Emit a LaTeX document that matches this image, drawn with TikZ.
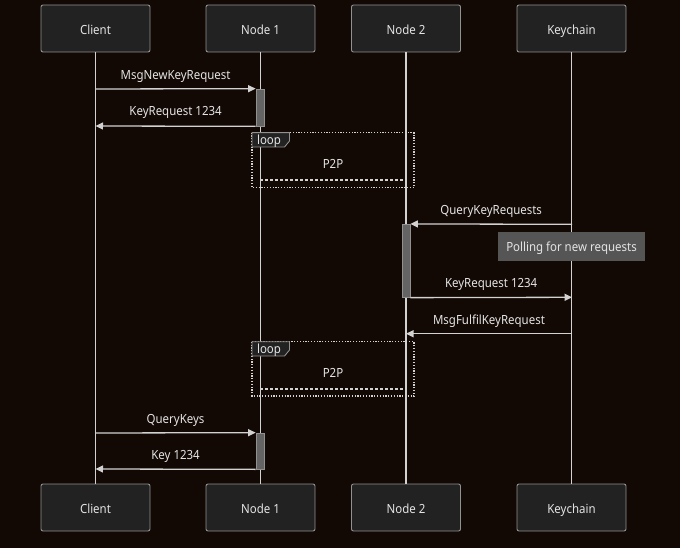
\documentclass[tikz,border=0pt]{standalone}
\usepackage{fontspec}
\setmainfont{Noto Sans}[FakeStretch=0.91]
\usetikzlibrary{arrows.meta}
\definecolor{bg}{RGB}{18,8,4}
\definecolor{boxfill}{RGB}{34,34,34}
\definecolor{boxline}{RGB}{145,145,145}
\definecolor{lineclr}{RGB}{210,210,210}
\definecolor{txt}{RGB}{228,228,228}
\definecolor{actfill}{RGB}{100,100,100}
\definecolor{notefill}{RGB}{85,85,85}
\tikzset{
  txtfont/.style={font=\fontsize{12.6}{15}\selectfont},
  actor/.style={draw=boxline, fill=boxfill, rounded corners=2pt, minimum width=109pt, minimum height=47pt, text=txt, txtfont, line width=0.9pt, text height=13.8pt, text depth=2.6pt},
  life/.style={draw=lineclr, line width=1.3pt},
  act/.style={draw=boxline, fill=actfill, minimum width=8pt, inner sep=0pt, line width=0.7pt},
  msg/.style={draw=lineclr, line width=1.3pt, -{Triangle[length=7.5pt,width=7pt]}},
  lbl/.style={text=txt, txtfont, inner sep=0pt, text height=12.2pt, text depth=2.6pt},
  loopbox/.style={draw=lineclr, line width=1.2pt, dash pattern=on 1.2pt off 1.6pt},
  p2pline/.style={draw=lineclr, line width=1.2pt, dash pattern=on 2.5pt off 2.5pt},
  looptab/.style={draw=boxline, fill=boxfill, line width=0.9pt},
  notebox/.style={fill=notefill, text=txt, txtfont, minimum width=147pt, minimum height=29pt, inner sep=0pt, text height=12.2pt, text depth=2.6pt}
}
\begin{document}
\begin{tikzpicture}[x=1pt,y=-1pt]
\fill[bg] (0,0) rectangle (680,548);
\useasboundingbox (0,0) rectangle (680,548);

% actors top
\node[actor] (ct) at (95.5,28.5) {Client};
\node[actor] (n1t) at (260.5,28.5) {Node 1};
\node[actor] (n2t) at (406,28.5) {Node 2};
\node[actor] (kt) at (571.5,28.5) {Keychain};
% actors bottom
\node[actor] (cb) at (95.5,507.5) {Client};
\node[actor] (n1b) at (260.5,507.5) {Node 1};
\node[actor] (n2b) at (406,507.5) {Node 2};
\node[actor] (kb) at (571.5,507.5) {Keychain};

% lifelines
\draw[life] (ct.south) -- (cb.north);
\draw[life] (n1t.south) -- (n1b.north);
\draw[life] (n2t.south) -- (n2b.north);
\draw[life] (kt.south) -- (kb.north);

% activations
\node[act, minimum height=37pt] (a1) at (260,107.5) {};
\node[act, minimum height=73pt] (a2) at (406,260.8) {};
\node[act, minimum height=36pt] (a3) at (260,451) {};

% coordinates on lifelines
\coordinate (c1) at (95.5,89);
\coordinate (c2) at (95.5,126);
\coordinate (k1) at (572,224.3);
\coordinate (k2) at (572,297.3);
\coordinate (k3) at (572,333.7);
\coordinate (n2a) at (406,333.7);
\coordinate (c3) at (95.5,433);
\coordinate (c4) at (95.5,469);

% messages
\draw[msg] (c1) -- (a1.north west) node[lbl, midway, yshift=14pt] {MsgNewKeyRequest};
\draw[msg] (a1.south west) -- (c2) node[lbl, midway, yshift=15pt] {KeyRequest 1234};

% loop 1
\draw[loopbox] (252,132.7) rectangle (414,187.7);
\draw[looptab] (252,132.7) -- (289.5,132.7) -- (289.5,141) -- (284.5,147) -- (252,147) -- cycle;
\node[lbl] (lp1) at (269,140) {loop};
\coordinate (p1a) at (260,180);
\coordinate (p1b) at (404,180);
\draw[p2pline] (p1a) -- (p1b);
\node[lbl] (p2p1) at (333,164) {P2P};

\draw[msg] (k1) -- (a2.north east) node[lbl, midway, yshift=14.5pt] {QueryKeyRequests};
\node[notebox] (note) at (571.5,246.5) {Polling for new requests};
\draw[msg] (a2.south east) -- (k2) node[lbl, midway, yshift=14.5pt] {KeyRequest 1234};
\draw[msg] (k3) -- (n2a) node[lbl, midway, yshift=14.5pt] {MsgFulfilKeyRequest};

% loop 2
\draw[loopbox] (252,341.7) rectangle (414,396);
\draw[looptab] (252,341.7) -- (289.5,341.7) -- (289.5,350) -- (284.5,356) -- (252,356) -- cycle;
\node[lbl] (lp2) at (269,349) {loop};
\coordinate (p2a) at (260,389);
\coordinate (p2b) at (404,389);
\draw[p2pline] (p2a) -- (p2b);
\node[lbl] (p2p2) at (333,373) {P2P};

\draw[msg] (c3) -- (a3.north west) node[lbl, midway, yshift=14.5pt] {QueryKeys};
\draw[msg] (a3.south west) -- (c4) node[lbl, midway, yshift=14.5pt] {Key 1234};
\end{tikzpicture}
\end{document}
